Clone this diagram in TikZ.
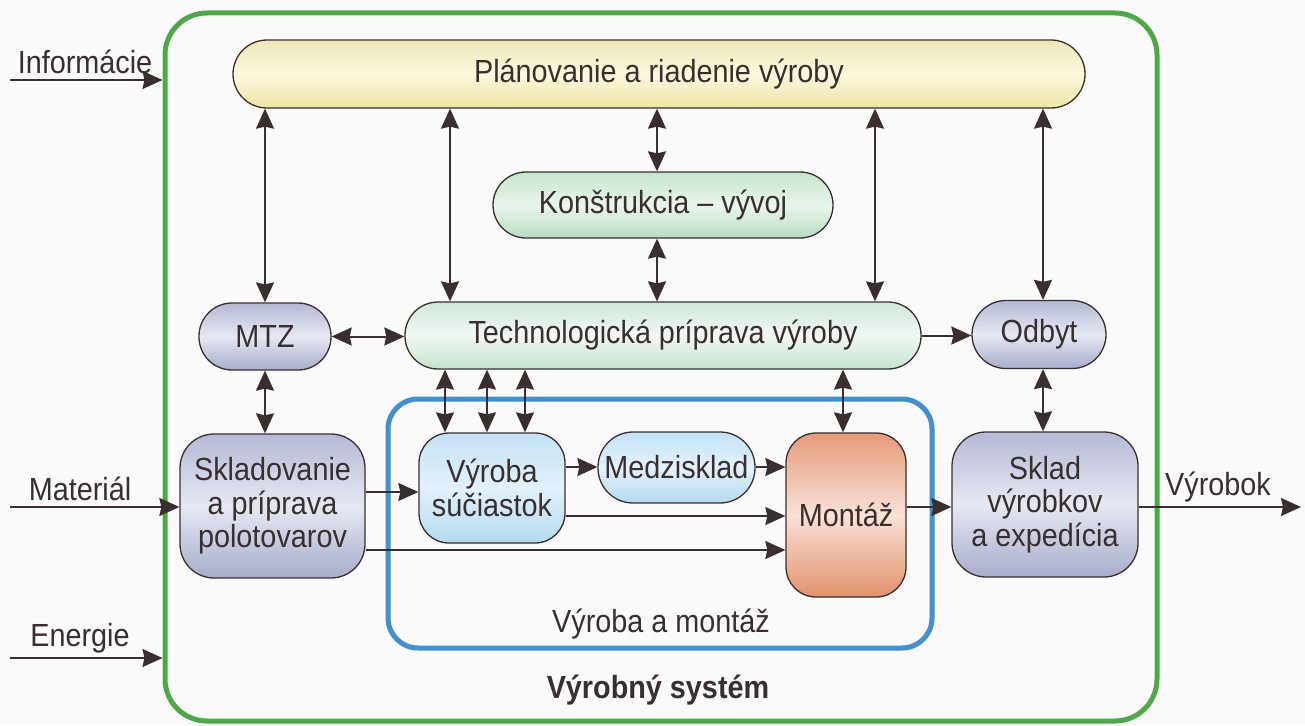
\documentclass[tikz,border=0pt]{standalone}
\usepackage{fontspec}
\setmainfont{Liberation Sans}
\newfontfamily\labelfont[FakeStretch=0.9]{Liberation Sans}
\usetikzlibrary{arrows.meta}

\definecolor{ink}{HTML}{3A2F2F}
\definecolor{sysgreen}{HTML}{4DA84A}
\definecolor{prodblue}{HTML}{4090D4}
% fills: top, middle, bottom
\definecolor{yelT}{HTML}{EDE8B8}\definecolor{yelM}{HTML}{FBF8DF}\definecolor{yelB}{HTML}{EEE6A2}
\definecolor{grnT}{HTML}{C6E4CC}\definecolor{grnM}{HTML}{EAF5EC}\definecolor{grnB}{HTML}{B9DCC2}
\definecolor{mntT}{HTML}{CFE7D9}\definecolor{mntM}{HTML}{F2F8F3}\definecolor{mntB}{HTML}{C4E2CF}
\definecolor{gryT}{HTML}{B5B9D3}\definecolor{gryM}{HTML}{E6E8F2}\definecolor{gryB}{HTML}{A7ACC9}
\definecolor{bluT}{HTML}{C3E2F3}\definecolor{bluM}{HTML}{E3F1FA}\definecolor{bluB}{HTML}{B4D9EE}
\definecolor{orgT}{HTML}{E69A78}\definecolor{orgM}{HTML}{F7E2D8}\definecolor{orgB}{HTML}{E3916C}

\tikzset{
  box/.style={draw=ink, line width=1.3pt, inner sep=0pt, align=center,
    font=\labelfont\fontsize{32}{33.5}\selectfont, text=ink},
  yellowbox/.style={box, top color=yelT, bottom color=yelB, middle color=yelM},
  greenbox/.style={box, top color=grnT, bottom color=grnB, middle color=grnM},
  mintbox/.style={box, top color=mntT, bottom color=mntB, middle color=mntM},
  greybox/.style={box, top color=gryT, bottom color=gryB, middle color=gryM},
  bluebox/.style={box, top color=bluT, bottom color=bluB, middle color=bluM},
  orangebox/.style={box, top color=orgT, bottom color=orgB, middle color=orgM},
  tip/.tip={Stealth[length=20pt,width=18pt,inset=2pt]},
  flow/.style={draw=ink, line width=2pt, -tip},
  biflow/.style={draw=ink, line width=2pt, tip-tip},
  inflow/.style={draw=ink, line width=1.6pt, -tip},
  lbl/.style={font=\labelfont\fontsize{32}{34}\selectfont, text=ink, inner sep=0pt},
}

\begin{document}
\begin{tikzpicture}[x=1pt, y=-1pt]
\useasboundingbox[fill=black!2] (0,0) rectangle (1305,725);

% outer system frame and production area
\node (sys) [draw=sysgreen, line width=5pt, rounded corners=42pt, minimum width=992pt, minimum height=708pt, inner sep=0pt] at (661,367) {};
\node (prod) [draw=prodblue, line width=5pt, rounded corners=30pt, minimum width=544pt, minimum height=249pt, inner sep=0pt] at (660,523.5) {};

% blocks
\node (plan) [yellowbox, rounded corners=34pt, minimum width=852pt, minimum height=68pt] at (659,74) {Plánovanie a riadenie výroby};
\node (kon) [greenbox, rounded corners=33pt, minimum width=340pt, minimum height=66pt] at (663,205) {Konštrukcia – vývoj};
\node (mtz) [greybox, rounded corners=33pt, minimum width=132pt, minimum height=67pt] at (265,336.5) {MTZ};
\node (tech) [mintbox, rounded corners=33pt, minimum width=516pt, minimum height=67pt] at (663,335.5) {Technologická príprava výroby};
\node (odbyt) [greybox, rounded corners=34pt, minimum width=134pt, minimum height=68pt] at (1039,334.5) {Odbyt};
\node (sklp) [greybox, rounded corners=34pt, minimum width=185pt, minimum height=144pt] at (272.5,506) {Skladovanie\\a príprava\\polotovarov};
\node (vs) [bluebox, rounded corners=30pt, minimum width=146pt, minimum height=110pt] at (492,488) {Výroba\\súčiastok};
\node (medz) [bluebox, rounded corners=35pt, minimum width=157pt, minimum height=71pt] at (676.5,467.5) {Medzisklad};
\node (mont) [orangebox, rounded corners=30pt, minimum width=120pt, minimum height=164pt] at (846,515) {Montáž};
\node (sklad) [greybox, rounded corners=34pt, minimum width=186pt, minimum height=145pt] at (1045,504.5) {Sklad\\výrobkov\\a expedícia};

% captions
\node (capprod) [lbl] at (661,624) {Výroba a montáž};
\node (capsys) [lbl, font=\labelfont\fontsize{32}{34}\bfseries] at (658,690) {Výrobný systém};
\node (tinf) [lbl] at (85,62) {Informácie};
\node (tmat) [lbl] at (80,489) {Materiál};
\node (tene) [lbl] at (80,638) {Energie};
\node (tout) [lbl] at (1218,487) {Výrobok};

% column and row guides for the connectors
\coordinate (c445) at (445,0);
\coordinate (c450) at (450,0);
\coordinate (c487) at (487,0);
\coordinate (c525) at (525,0);
\coordinate (c657) at (657,0);
\coordinate (c843) at (843,0);
\coordinate (c875) at (875,0);
\coordinate (c1043) at (1043,0);
\coordinate (r467) at (0,467);
\coordinate (r492) at (0,492);
\coordinate (r507) at (0,507);
\coordinate (r516) at (0,516);
\coordinate (r550) at (0,550);

% inputs and output
\coordinate (inA) at (10,80);
\coordinate (inB) at (10,507);
\coordinate (inC) at (10,658);
\coordinate (outA) at (1301,507);
\draw[inflow] (inA) -- (inA -| sys.west);
\draw[inflow] (inB) -- (inB -| sklp.west);
\draw[inflow] (inC) -- (inC -| sys.west);
\draw[inflow] (sklad.east |- r507) -- (outA);

% planning links
\draw[biflow] (plan.south -| mtz) -- (mtz.north);
\draw[biflow] (plan.south -| c450) -- (tech.north -| c450);
\draw[biflow] (plan.south -| c657) -- (kon.north -| c657);
\draw[biflow] (kon.south -| c657) -- (tech.north -| c657);
\draw[biflow] (plan.south -| c875) -- (tech.north -| c875);
\draw[biflow] (plan.south -| c1043) -- (odbyt.north -| c1043);

% side links
\draw[biflow] (mtz.east) -- (tech.west |- mtz.east);
\draw[flow] (tech.east) -- (odbyt.west |- tech.east);
\draw[biflow] (mtz.south) -- (sklp.north -| mtz.south);
\draw[biflow] (odbyt.south -| c1043) -- (sklad.north -| c1043);

% technology to production
\draw[biflow] (tech.south -| c445) -- (vs.north -| c445);
\draw[biflow] (tech.south -| c487) -- (vs.north -| c487);
\draw[biflow] (tech.south -| c525) -- (vs.north -| c525);
\draw[biflow] (tech.south -| c843) -- (mont.north -| c843);

% material flow
\draw[flow] (sklp.east |- r492) -- (vs.west |- r492);
\draw[flow] (sklp.east |- r550) -- (mont.west |- r550);
\draw[flow] (vs.east |- r467) -- (medz.west |- r467);
\draw[flow] (medz.east |- r467) -- (mont.west |- r467);
\draw[flow] (vs.east |- r516) -- (mont.west |- r516);
\draw[flow] (mont.east |- r507) -- (sklad.west |- r507);
\end{tikzpicture}
\end{document}
